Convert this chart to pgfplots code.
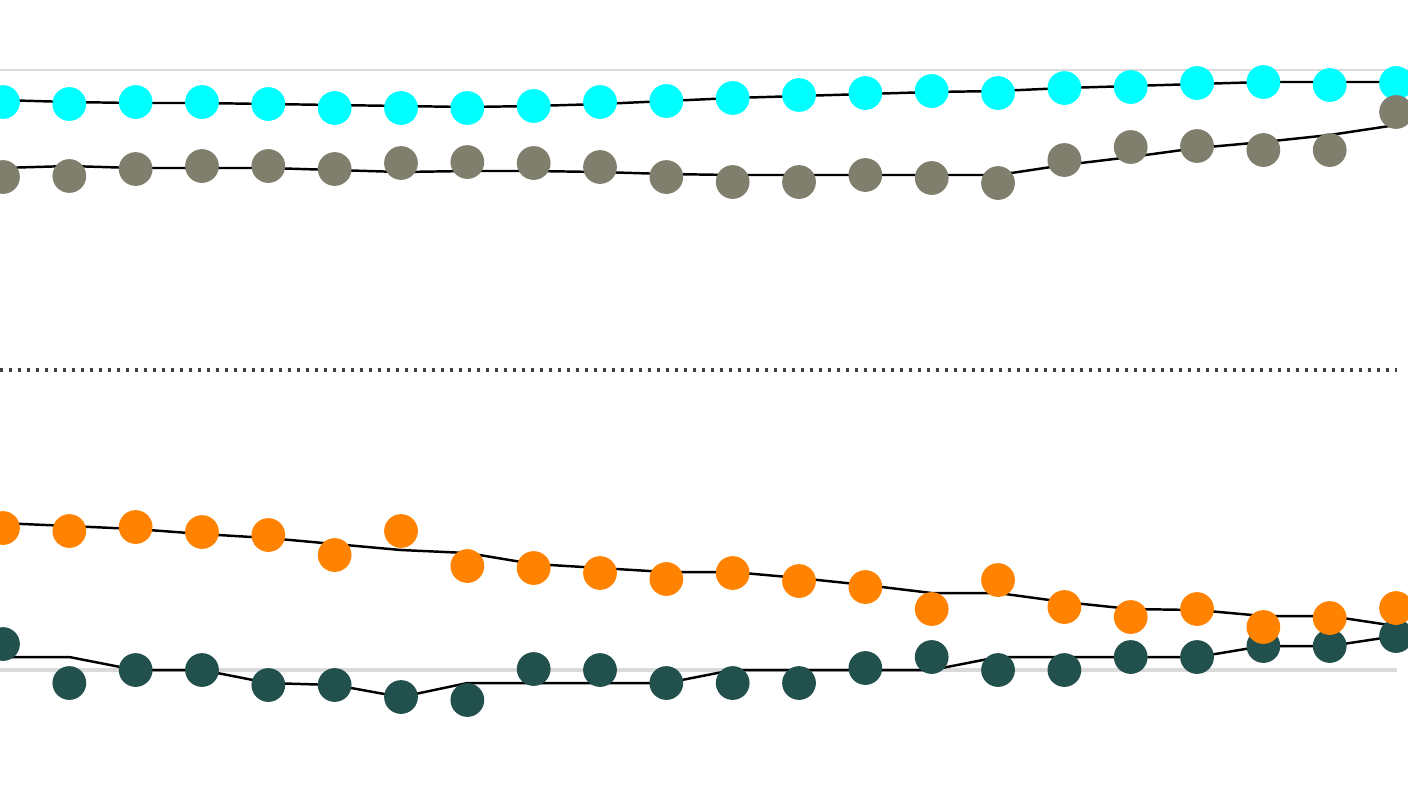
\documentclass[border=0pt]{standalone}
\usepackage{pgfplots}
\pgfplotsset{compat=1.18}

\definecolor{cyandot}{RGB}{0,255,255}
\definecolor{olivedot}{RGB}{128,126,108}
\definecolor{orangedot}{RGB}{255,130,0}
\definecolor{tealdot}{RGB}{34,80,76}
\definecolor{refgray}{RGB}{218,218,218}

% dot values (vertical position, measured from the top)
\pgfplotstableread{
x   cyan  olive orange teal
0   102   177   528    644
1   104   176   531    683
2   102   169   527    670
3   102   166   532    670
4   104   166   535    685
5   108   169   555    685
6   108   163   531    697
7   108   162   566    700
8   106   163   568    669
9   102   167   573    670
10  101   177   579    683
11  98    182   573    683
12  95    182   581    683
13  93    175   587    668
14  91    178   609    657
15  93    183   580    670
16  88    160   607    670
17  87    147   617    657
18  83    146   609    657
19  82    150   627    646
20  85    150   618    646
21  83    112   608    636
}\dots

% trend lines
\pgfplotstableread{
x      cyan  olive orange teal
-0.045 100   168   523    657
1      102   166   526    657
2      103   168   529    670
3      103   168   534    670
4      104   168   538    683
5      105   170   544    685
6      106   172   550    697
7      107   171   553    683
8      106   171   564    683
9      104   172   568    683
10     101   174   572    683
11     98    175   572    670
12     96    175   578    670
13     94    175   585    670
14     92    175   593    670
15     91    175   593    657
16     88    165   602    657
17     86    157   609    657
18     84    148   610    657
19     82    142   616    646
20     82    135   616    646
21     82    125   626    636
21.18  82    122   630    632
}\trend

\begin{document}
\begin{tikzpicture}
\begin{axis}[
    width=14.08cm, height=7.92cm,
    scale only axis,
    axis lines=none,
    ticks=none,
    xmin=-0.045, xmax=21.18,
    ymin=0, ymax=792,
    y dir=reverse,
    clip marker paths=true,
    dot/.style={only marks, mark=*, mark size=4.6pt, color=#1, mark options={draw=#1, fill=#1}},
]
% reference lines
\addplot[refgray, line width=0.8pt] coordinates {(-0.045,70) (21.18,70)};
\addplot[refgray, line width=0.9pt] coordinates {(-0.045,670) (21.02,670)};
\addplot[black!75, line width=1.3pt, dash pattern=on 0.03cm off 0.06cm] coordinates {(-0.045,370) (21.02,370)};

% trend lines
\addplot[black, line width=0.7pt] table[x=x, y=cyan] {\trend};
\addplot[black, line width=0.7pt] table[x=x, y=olive] {\trend};
\addplot[black, line width=0.7pt] table[x=x, y=teal] {\trend};
\addplot[black, line width=0.7pt] table[x=x, y=orange] {\trend};

% dots
\addplot[dot=cyandot] table[x=x, y=cyan] {\dots};
\addplot[dot=olivedot] table[x=x, y=olive] {\dots};
\addplot[dot=tealdot] table[x=x, y=teal] {\dots};
\addplot[dot=orangedot] table[x=x, y=orange] {\dots};
\end{axis}
\pgfresetboundingbox
\useasboundingbox (current axis.south west) rectangle (current axis.north east);
\end{tikzpicture}
\end{document}
